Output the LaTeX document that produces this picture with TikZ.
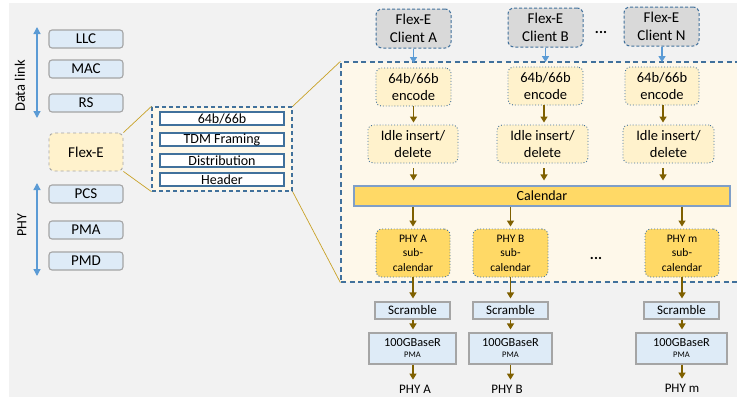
\documentclass[tikz,border=0pt]{standalone}
\usepackage{fontspec}
\setmainfont{Carlito}
\usetikzlibrary{arrows.meta}
\definecolor{bggray}{HTML}{F2F2F2}
\definecolor{lblue}{HTML}{DEEBF7}
\definecolor{graybd}{HTML}{A5A5A5}
\definecolor{lyel}{HTML}{FFF2CC}
\definecolor{cream}{HTML}{FEF8EA}
\definecolor{bluebd}{HTML}{41719C}
\definecolor{cligray}{HTML}{D9D9D9}
\definecolor{gold}{HTML}{FFD966}
\definecolor{calbd}{HTML}{7F9FC8}
\definecolor{brown}{HTML}{7F6000}
\definecolor{arrblue}{HTML}{5B9BD5}
\definecolor{orline}{HTML}{C9A227}
\tikzset{
  layer/.style={draw=graybd, fill=lblue, rounded corners=3pt, line width=1.1pt,
    minimum width=74pt, minimum height=18pt, inner sep=0pt, font=\fontsize{15}{18}\selectfont},
  inbox/.style={draw=bluebd, fill=white, line width=1.1pt, minimum width=124pt,
    minimum height=13pt, inner sep=0pt, font=\fontsize{14}{16}\selectfont},
  client/.style={draw=bluebd, fill=cligray, dash pattern=on 3pt off 2pt, line width=1pt,
    rounded corners=6pt, minimum width=75pt, minimum height=39pt, inner sep=0pt,
    align=center, font=\fontsize{15}{18}\selectfont},
  encbox/.style={draw=bluebd, fill=lyel, dotted, line width=0.9pt, rounded corners=5pt,
    minimum height=38pt, inner sep=0pt, align=center, font=\fontsize{14.5}{17.8}\selectfont},
  subcal/.style={draw=bluebd, fill=gold, dotted, line width=0.9pt, rounded corners=6pt,
    minimum width=74pt, minimum height=48pt, inner sep=0pt, align=center,
    font=\fontsize{11.5}{14.5}\selectfont},
  scr/.style={draw=graybd, fill=lblue, line width=1.1pt, minimum width=75pt,
    minimum height=17pt, inner sep=0pt, font=\fontsize{13}{15}\selectfont},
  gbase/.style={draw=graybd, fill=lblue, line width=1.1pt, minimum height=31pt,
    inner sep=0pt, align=center, font=\fontsize{12.3}{12}\selectfont},
  plabel/.style={inner sep=0pt, font=\fontsize{13}{15}\selectfont},
  barr/.style={draw=brown, line width=1.3pt, -{Triangle[width=7pt,length=6pt]}},
  blarr/.style={draw=arrblue, line width=1.3pt, -{Triangle[width=7pt,length=6pt]}},
  dblarr/.style={draw=arrblue, line width=1.3pt, {Triangle[width=7pt,length=7pt]}-{Triangle[width=7pt,length=7pt]}},
  zoomline/.style={draw=orline, line width=0.7pt},
}
\begin{document}
\begin{tikzpicture}[x=1pt,y=-1pt]
\useasboundingbox (0,0) rectangle (737,397);
\begin{scope}
\clip (0,0) rectangle (737,397);
\fill[bggray] (9,3) rectangle (737,397);

% left stack
\node[layer] (llc) at (86,39) {LLC};
\node[layer] (mac) at (86,69) {MAC};
\node[layer] (rs) at (86,103) {RS};
\node[layer, fill=lyel, dashed, rounded corners=5pt, minimum height=38pt, line width=0.9pt] (flexe) at (86,152) {Flex-E};
\node[layer] (pcs) at (86,194) {PCS};
\node[layer] (pma) at (86,230) {PMA};
\node[layer] (pmd) at (86,261) {PMD};

\coordinate (dlt) at (37,27);
\coordinate (dlb) at (37,118);
\coordinate (pht) at (37,183);
\coordinate (phb) at (37,276);
\draw[dblarr] (dlt) -- (dlb);
\draw[dblarr] (pht) -- (phb);
\node[rotate=90, inner sep=0pt, font=\fontsize{14.5}{17}\selectfont] (dltxt) at (20,86) {Data link};
\node[rotate=90, inner sep=0pt, font=\fontsize{14}{17}\selectfont] (phytxt) at (22,225) {PHY};

% middle box
\node[draw=bluebd, fill=cream, dash pattern=on 4pt off 3pt, line width=1.2pt,
  minimum width=140pt, minimum height=84pt, inner sep=0pt] (mid) at (222,149) {};
\node[inbox] (m1) at (222,118.5) {64b/66b};
\node[inbox] (m2) at (222,139.5) {TDM Framing};
\node[inbox] (m3) at (222,160.5) {Distribution};
\node[inbox] (m4) at (222,179.5) {Header};

% big box
\node[draw=bluebd, fill=cream, dash pattern=on 5pt off 3.5pt, line width=1.2pt,
  minimum width=404pt, minimum height=220pt, inner sep=0pt] (big) at (543,172) {};

\draw[zoomline] (flexe.north east) -- (mid.north west);
\draw[zoomline] (flexe.south east) -- (mid.south west);
\draw[zoomline] (mid.north east) -- (big.north west);
\draw[zoomline] (mid.south east) -- (big.south west);

% clients
\node[client] (ca) at (413.5,28.5) {Flex-E\\Client A};
\node[client] (cb) at (545.5,27.5) {Flex-E\\Client B};
\node[client] (cn) at (661.5,26.5) {Flex-E\\Client N};
\node[inner sep=0pt, font=\fontsize{15}{18}\selectfont\bfseries] (dots1) at (601,32) {...};

% encode
\node[encbox, minimum width=75pt] (ea) at (413.5,87) {64b/66b\\encode};
\node[encbox, minimum width=75pt] (eb) at (545.5,86) {64b/66b\\encode};
\node[encbox, minimum width=74pt] (en) at (662,86) {64b/66b\\encode};

% idle
\node[encbox, minimum width=90pt] (ia) at (413,144) {Idle insert/\\delete};
\node[encbox, minimum width=91pt] (ib) at (542.5,144) {Idle insert/\\delete};
\node[encbox, minimum width=91pt] (in) at (668.5,144) {Idle insert/\\delete};

% calendar
\node[draw=calbd, fill=gold, line width=1.1pt, minimum width=376pt, minimum height=20pt,
  inner sep=0pt, font=\fontsize{14}{16}\selectfont] (cal) at (542,196) {Calendar};

% sub-calendars
\node[subcal] (sa) at (413,253) {PHY A\\sub-\\calendar};
\node[subcal, minimum width=75pt] (sb) at (510.5,253) {PHY B\\sub-\\calendar};
\node[subcal] (sm) at (682,253) {PHY m\\sub-\\calendar};
\node[inner sep=0pt, font=\fontsize{15}{18}\selectfont\bfseries] (dots2) at (596,258) {...};

% scramble
\node[scr] (ra) at (412.5,310.5) {Scramble};
\node[scr] (rb) at (510.5,310.5) {Scramble};
\node[scr] (rm) at (681.5,310.5) {Scramble};

% 100GBaseR
\node[gbase, minimum width=87pt] (ga) at (412.5,348.5) {100GBaseR\\[-1pt]{\fontsize{8.5}{9}\selectfont PMA}};
\node[gbase, minimum width=83pt] (gb) at (510.5,348.5) {100GBaseR\\[-1pt]{\fontsize{8.5}{9}\selectfont PMA}};
\node[gbase, minimum width=91pt] (gm) at (681.5,348.5) {100GBaseR\\[-1pt]{\fontsize{8.5}{9}\selectfont PMA}};

% labels
\node[plabel] (la) at (415,389) {PHY A};
\node[plabel] (lb) at (507,389) {PHY B};
\node[plabel] (lm) at (682,388) {PHY m};

% column x positions for top arrows
\coordinate (xb) at (544,0);
\coordinate (xn) at (663,0);

% arrows: clients -> encode
\draw[blarr, shorten >=4.5pt] (ca) -- (ca |- ea.north);
\draw[blarr, shorten >=4.5pt] (cb) -- (cb |- eb.north);
\draw[blarr, shorten >=4.5pt] (cn.south -| en) -- (en.north);

% encode -> idle
\draw[barr, shorten >=2pt] (ea.south) -- (ea |- ia.north);
\draw[barr, shorten >=2pt] (eb.south -| xb) -- (xb |- ib.north);
\draw[barr, shorten >=2pt] (en.south -| xn) -- (xn |- in.north);

% idle -> calendar
\draw[barr, shorten <=5pt, shorten >=5pt] (ia.south -| ea) -- (ea |- cal.north);
\draw[barr, shorten <=5pt, shorten >=5pt] (ib.south -| xb) -- (xb |- cal.north);
\draw[barr, shorten <=5pt, shorten >=5pt] (in.south -| xn) -- (xn |- cal.north);

% calendar -> sub-calendars
\draw[barr, shorten >=2pt] (cal.south -| sa) -- (sa.north);
\draw[barr, shorten >=2pt] (cal.south -| sb) -- (sb.north);
\draw[barr, shorten >=2pt] (cal.south -| sm) -- (sm.north);

% sub-calendars -> scramble
\draw[barr, shorten >=3pt] (sa.south) -- (sa |- ra.north);
\draw[barr, shorten >=3pt] (sb.south) -- (sb |- rb.north);
\draw[barr, shorten >=3pt] (sm.south) -- (sm |- rm.north);

% scramble -> 100G
\draw[barr, shorten >=3pt] (ra.south -| sa) -- (sa |- ga.north);
\draw[barr, shorten >=3pt] (rb.south -| sb) -- (sb |- gb.north);
\draw[barr, shorten >=3pt] (rm.south -| sm) -- (sm |- gm.north);

% 100G -> labels
\draw[barr, shorten >=5pt] (ga.south -| sa) -- (sa |- la.north);
\draw[barr, shorten >=5pt] (gb.south -| sb) -- (sb |- lb.north);
\draw[barr, shorten >=5pt] (gm.south -| sm) -- (sm |- lm.north);
\end{scope}
\end{tikzpicture}
\end{document}
